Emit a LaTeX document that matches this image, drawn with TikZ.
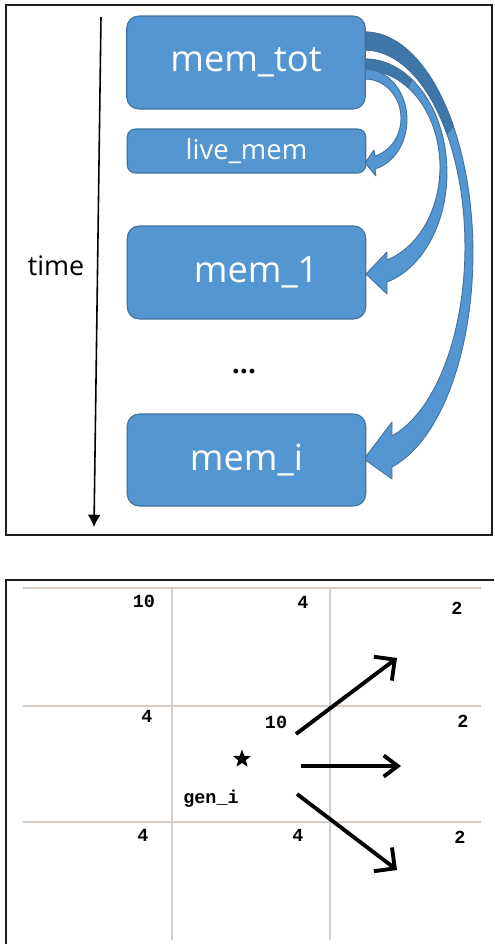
\documentclass[tikz,border=0pt]{standalone}
\usepackage{fontspec}
\setmainfont{Open Sans}
\newfontfamily\lblfont{Liberation Mono}
\usetikzlibrary{arrows.meta,shapes.geometric}
\definecolor{boxfill}{RGB}{83,150,210}
\definecolor{boxline}{RGB}{65,113,156}
\definecolor{backfill}{RGB}{62,118,168}
\definecolor{gridc}{RGB}{214,206,198}
\definecolor{framec}{RGB}{30,30,30}
\tikzset{
  memBox/.style={draw=boxline, fill=boxfill, line width=0.6pt, rounded corners=0.24cm,
    minimum width=4.77cm, text=white, inner sep=0pt},
  bigTxt/.style={font=\fontsize{20.6}{24}\selectfont},
  curvArrow/.style={fill=boxfill, draw=boxline, line width=0.5pt, line join=round},
  backPart/.style={fill=backfill, draw=boxline, line width=0.5pt, line join=round},
  gridLine/.style={draw=gridc, line width=0.85pt},
  numLbl/.style={font=\lblfont\bfseries\fontsize{10.5}{12}\selectfont, inner sep=0pt},
  moveArrow/.style={line width=2.2pt},
  frameLine/.style={draw=framec, line width=0.85pt}
}
\begin{document}
\begin{tikzpicture}[x=0.02cm,y=-0.02cm]
\useasboundingbox (0,0) rectangle (494,944);

% ---------- top panel ----------
\draw[frameLine] (6,5) rectangle (492,535);

% curved arrows (drawn first, behind boxes)
% mem_tot -> mem_i
\filldraw[curvArrow] plot[domain=90:-75.5,samples=50] ({365+108*cos(\x)},{253-221*sin(\x)})
  -- (392,479) -- (364,459) -- (392,422) -- (392,436)
  -- plot[domain=-74.3:90,samples=50] ({365+100*cos(\x)},{246.6-196.6*sin(\x)}) -- cycle;
\filldraw[backPart] plot[domain=90:35,samples=30] ({365+108*cos(\x)},{253-221*sin(\x)})
  -- plot[domain=35:90,samples=30] ({365+100*cos(\x)},{246.6-196.6*sin(\x)}) -- cycle;
% mem_tot -> mem_1
\filldraw[curvArrow] plot[domain=90:-74.4,samples=40] ({365+82*cos(\x)},{172.6-113.6*sin(\x)})
  -- (387,294) -- (366,274) -- (387,252) -- (387,260)
  -- plot[domain=-72.9:90,samples=40] ({365+75*cos(\x)},{167.1-97.1*sin(\x)}) -- cycle;
\filldraw[backPart] plot[domain=90:55,samples=20] ({365+82*cos(\x)},{172.6-113.6*sin(\x)})
  -- plot[domain=55:90,samples=20] ({365+75*cos(\x)},{167.1-97.1*sin(\x)}) -- cycle;
% mem_tot -> live_mem
\filldraw[curvArrow] plot[domain=90:-76.2,samples=30] ({365+42*cos(\x)},{119.7-50.7*sin(\x)})
  -- (376,176) -- (365,163) -- (374,150) -- (375,156)
  -- plot[domain=-73.9:90,samples=30] ({365+36*cos(\x)},{118.3-39.3*sin(\x)}) -- cycle;

% boxes
\node[memBox, bigTxt, minimum height=1.86cm] (memtot) at (246,62.5) {mem\_tot};
\node[memBox, minimum height=0.88cm, rounded corners=0.16cm,
      font=\fontsize{15.6}{18}\selectfont] (livemem) at (246.5,151) {live\_mem};
\node[memBox, bigTxt, minimum height=1.86cm] (mem1) at (246.5,272.5) {\hspace*{11pt}mem\_1};
\node[memBox, bigTxt, minimum height=1.84cm] (memi) at (246.5,460) {mem\_i};

\node[font=\fontsize{16}{18}\selectfont\bfseries, anchor=base, inner sep=0pt] (dots) at (244,373) {...};
\node[font=\fontsize{15.3}{18}\selectfont, inner sep=0pt] (timelbl) at (56,266) {time};

\coordinate (t0) at (101,17);
\coordinate (t1) at (94,527);
\draw[line width=0.9pt, -{Latex[length=7pt,width=7.5pt]}] (t0) -- (t1);

% ---------- bottom panel ----------
\draw[frameLine] (494,580) -- (6,580) -- (6,944);

\draw[gridLine] (23,588) -- (481,588);
\draw[gridLine] (23,706) -- (481,706);
\draw[gridLine] (23,822) -- (481,822);
\draw[gridLine] (172,588) -- (172,940);
\draw[gridLine] (330,588) -- (330,940);

\node[numLbl] (n1) at (144,601) {10};
\node[numLbl] (n2) at (303,602) {4};
\node[numLbl] (n3) at (457,608) {2};
\node[numLbl] (n4) at (147,716) {4};
\node[numLbl] (n5) at (276,722) {10};
\node[numLbl] (n6) at (463,721) {2};
\node[numLbl] (n7) at (143,835) {4};
\node[numLbl] (n8) at (298,835) {4};
\node[numLbl] (n9) at (460,837) {2};
\node[numLbl] (gen) at (211,799) {gen\_i};

\node[star, star points=5, star point ratio=2.4, fill=black, minimum size=0.38cm, inner sep=0pt] (star) at (242,759) {};

\coordinate (a1s) at (296,734);
\coordinate (a1e) at (397,658);
\coordinate (a2s) at (301,766);
\coordinate (a2e) at (401,766);
\coordinate (a3s) at (297,794);
\coordinate (a3e) at (397,870);
\draw[moveArrow, -{Straight Barb[length=8.5pt,width=17pt]}] (a1s) -- (a1e);
\draw[moveArrow, -{Straight Barb[length=8pt,width=12pt]}] (a2s) -- (a2e);
\draw[moveArrow, -{Straight Barb[length=8.5pt,width=17pt]}] (a3s) -- (a3e);
\end{tikzpicture}
\end{document}
